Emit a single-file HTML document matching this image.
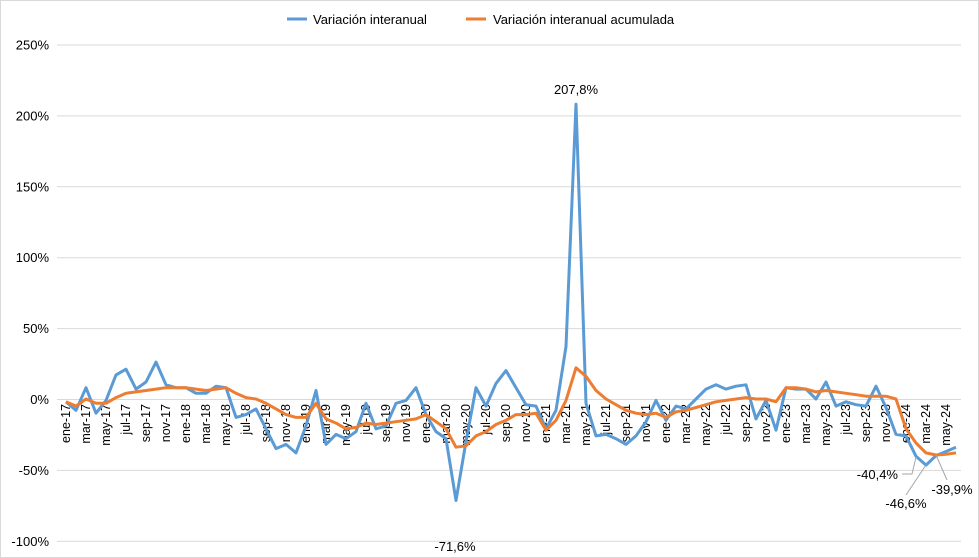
<!DOCTYPE html>
<html><head><meta charset="utf-8"><style>
body{margin:0;background:#fff}
svg{display:block;font-family:"Liberation Sans",Arial,sans-serif}
</style></head><body>
<svg id="c" width="979" height="558" viewBox="0 0 979 558" xmlns="http://www.w3.org/2000/svg">
<rect x="0.5" y="0.5" width="978" height="557" fill="#fff" stroke="#d9d9d9"/>
<g id="grid" stroke="#d9d9d9" stroke-width="1"></g>
<g id="ylab" font-size="13" fill="#000" text-anchor="end"></g>
<g id="xlab" font-size="12.5" fill="#000" text-anchor="end"></g>
<path id="blue" fill="none" stroke="#5b9bd5" stroke-width="3" stroke-linejoin="round"/>
<path id="orange" fill="none" stroke="#ed7d31" stroke-width="3" stroke-linejoin="round"/>
<g font-size="13" fill="#000">
<text x="576" y="94" text-anchor="middle">207,8%</text>
<text x="455" y="551" text-anchor="middle">-71,6%</text>
<text x="898" y="479" text-anchor="end">-40,4%</text>
<text x="906" y="508" text-anchor="middle">-46,6%</text>
<text x="952" y="494" text-anchor="middle">-39,9%</text>
</g>
<g stroke="#a6a6a6" stroke-width="1" fill="none">
<polyline points="902,474 912,474 916,457"/>
<polyline points="906,495 926,465"/>
<polyline points="936,455 947,480"/>
</g>
<g font-size="13">
<line x1="287" y1="19" x2="307" y2="19" stroke="#5b9bd5" stroke-width="3"/>
<text x="313" y="24">Variación interanual</text>
<line x1="466" y1="19" x2="486" y2="19" stroke="#ed7d31" stroke-width="3"/>
<text x="493" y="24">Variación interanual acumulada</text>
</g>
</svg>
<script>
var B=[-2,-8,8,-10,-1,17,21,7,12,26,10,8,8,4,4,9,8,-13,-11,-7,-21,-35,-32,-38,-19,6,-32,-25,-28,-23,-3,-21,-19,-3,-1,8,-11,-23,-28,-71.6,-30,8,-5,11,20,8,-4,-5,-21,-8,37,207.8,-3,-26,-25,-28,-32,-26,-16,-1,-15,-5,-7,0,7,10,7,9,10,-14,-1,-22,8,7,7,0,12,-5,-2,-4,-5,9,-6,-25,-26,-40.4,-46.6,-39.9,-37,-34];
var O=[-2,-5,0,-3,-3,1,4,5,6,7,8,8,8,7,6,7,8,4,1,0,-3,-7,-11,-13,-13,-3,-14,-17,-21,-20,-17,-18,-17,-16,-15,-14,-11,-16,-21,-34,-33,-26,-23,-18,-15,-11,-11,-10,-22,-15,-1,22,16,6,0,-4,-8,-10,-11,-10,-13,-9,-8,-6,-4,-2,-1,0,1,0,0,-2,8,8,7,5,6,5,4,3,2,2,2,0,-21,-31,-38,-39.5,-39,-38];
function X(i){return 66+i*10}function Y(v){return 399-v*1.418}
function p(a){return a.map(function(v,i){return(i?'L':'M')+X(i)+','+Y(v).toFixed(1)}).join('')}
document.getElementById('blue').setAttribute('d',p(B));
document.getElementById('orange').setAttribute('d',p(O));
var ns='http://www.w3.org/2000/svg',g=document.getElementById('grid'),yl=document.getElementById('ylab'),xl=document.getElementById('xlab');
for(var v=250;v>=-100;v-=50){var l=document.createElementNS(ns,'line');l.setAttribute('x1',57);l.setAttribute('x2',961);l.setAttribute('y1',Y(v)+.5);l.setAttribute('y2',Y(v)+.5);g.appendChild(l);
var t=document.createElementNS(ns,'text');t.setAttribute('x',49);t.setAttribute('y',Y(v)+5);t.textContent=v+'%';yl.appendChild(t);}
var m=['ene','mar','may','jul','sep','nov'];
for(var i=0;i<90;i+=2){var yr=17+Math.floor(i/12);var t=document.createElementNS(ns,'text');var x=X(i)+4,y=404;t.setAttribute('transform','translate('+x+','+y+') rotate(-90)');t.textContent=m[(i%12)/2]+'-'+yr;xl.appendChild(t);}
</script>
</body></html>
